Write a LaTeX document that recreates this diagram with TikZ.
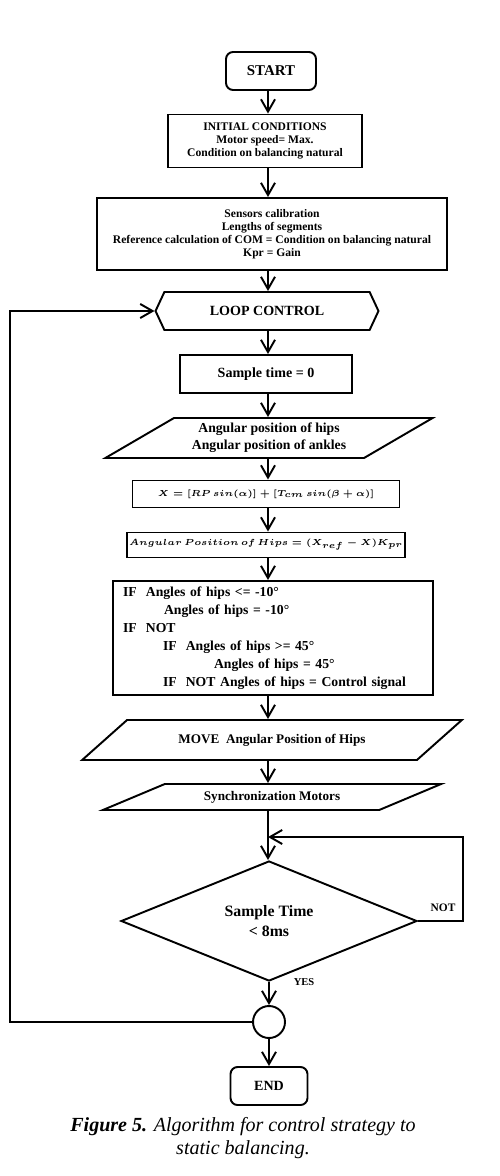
\documentclass[tikz,border=0pt]{standalone}
\usepackage{fontspec}
\setmainfont{Liberation Serif}
\usetikzlibrary{arrows.meta,shapes.geometric,shapes.symbols}

\begin{document}
\begin{tikzpicture}[x=0.02cm,y=-0.02cm,>={Straight Barb[length=7pt,width=8pt]},line width=1.1pt,
  proc/.style={draw,rectangle,inner sep=1pt,align=center},
  term/.style={proc,rounded corners=4pt},
  inout/.style={draw,trapezium,trapezium stretches=true,inner sep=1pt,align=center}]
\useasboundingbox (0,0) rectangle (500,1176);
\coordinate (ax) at (268,0);
% top of the chart
\node[term,minimum width=1.8cm,minimum height=0.76cm,font=\fontsize{8.5}{10}\selectfont\bfseries] (start) at (271,71) {START};
\node[proc,minimum width=3.88cm,minimum height=1.06cm,font=\fontsize{6.6}{7.6}\selectfont\bfseries] (init) at (265,141) {INITIAL CONDITIONS\\Motor speed= Max.\\Condition on balancing natural};
\node[proc,minimum width=7cm,minimum height=1.44cm,font=\fontsize{6.6}{7.3}\selectfont\bfseries] (sens) at (272,234) {Sensors calibration\\Lengths of segments\\Reference calculation of COM = Condition on balancing natural\\Kpr = Gain};
\node[draw,signal,signal to=west and east,signal pointer angle=130,minimum width=4.46cm,minimum height=0.76cm,inner sep=1pt,font=\fontsize{8}{10}\selectfont\bfseries] (loop) at (267,311) {LOOP CONTROL};
\node[proc,minimum width=3.44cm,minimum height=0.76cm,font=\fontsize{8}{10}\selectfont\bfseries] (samp) at (266,374) {Sample time = 0};
\node[inout,trapezium left angle=30,trapezium right angle=150,minimum width=6.56cm,minimum height=0.8cm,font=\fontsize{7.8}{9.5}\selectfont\bfseries] (angin) at (269,438) {Angular position of hips\\Angular position of ankles};
% equations
\node[proc,minimum width=5.34cm,minimum height=0.54cm,font=\fontsize{5.2}{7}\selectfont\boldmath] (xeq) at (266,494) {$X=[RP\ sin(\alpha)]+[T_{cm}\ sin(\beta+\alpha)]$};
\node[proc,minimum width=5.36cm,minimum height=0.5cm,font=\fontsize{5.2}{7}\selectfont\boldmath] (hip) at (266,545) {$Angular\ Position\ of\ Hips = (X_{ref}-X)K_{pr}$};
\node[proc,text width=6cm,inner xsep=0.2cm,minimum height=2.28cm,align=left,font=\fontsize{7.8}{10.2}\selectfont\bfseries] (cond) at (273,638) {IF\ \ Angles of hips <= -10°\\
\hspace*{0.82cm}Angles of hips = -10°\\
IF\ \ NOT\\
\hspace*{0.8cm}IF\ \ Angles of hips >= 45°\\
\hspace*{1.82cm}Angles of hips = 45°\\
\hspace*{0.8cm}IF\ \ NOT Angles of hips = Control signal};
\node[inout,trapezium left angle=28,trapezium right angle=152,minimum width=7.6cm,minimum height=0.8cm,font=\fontsize{7.5}{9}\selectfont\bfseries] (move) at (272,740) {MOVE\ \ Angular Position of Hips};
\node[inout,trapezium left angle=21,trapezium right angle=159,minimum width=6.78cm,minimum height=0.52cm,font=\fontsize{7.5}{9}\selectfont\bfseries] (sync) at (272,797) {Synchronization Motors};
% decision and end
\node[draw,diamond,minimum width=5.92cm,minimum height=1.86cm,inner sep=0pt,align=center,font=\fontsize{9}{11.4}\selectfont\bfseries] (dec) at (269,921) {Sample Time\\< 8ms};
\node[draw,circle,minimum size=0.64cm,inner sep=0pt] (join) at (269,1022) {};
\node[term,minimum width=1.54cm,minimum height=0.76cm,font=\fontsize{8}{10}\selectfont\bfseries] (fin) at (269,1086) {END};
\node[font=\fontsize{6.5}{8}\selectfont\bfseries] (no) at (443,908) {NOT};
\node[font=\fontsize{6}{7}\selectfont\bfseries] (yes) at (304,982) {YES};
\node[align=center,font=\fontsize{11.4}{13}\selectfont\itshape] (cap) at (243,1138) {\textbf{Figure 5.} Algorithm for control strategy to\\static balancing.};
\coordinate (nr) at (463,837);
\coordinate (merge) at (268,837);
\coordinate (fb) at (10,1022);
% connectors
\foreach \a/\b in {start/init,init/sens,sens/loop,loop/samp,samp/angin,angin/xeq,xeq/hip,hip/cond,cond/move,move/sync,sync/dec}
  \draw[->] (ax |- \a.south) -- (ax |- \b.north);
\draw[->] (dec.east) -| (nr) -- (merge);
\draw[->] (dec) -- (join);
\draw[->] (join) -- (fin);
\draw[->] (join.west) -- (fb) |- (loop.west);
\end{tikzpicture}
\end{document}
